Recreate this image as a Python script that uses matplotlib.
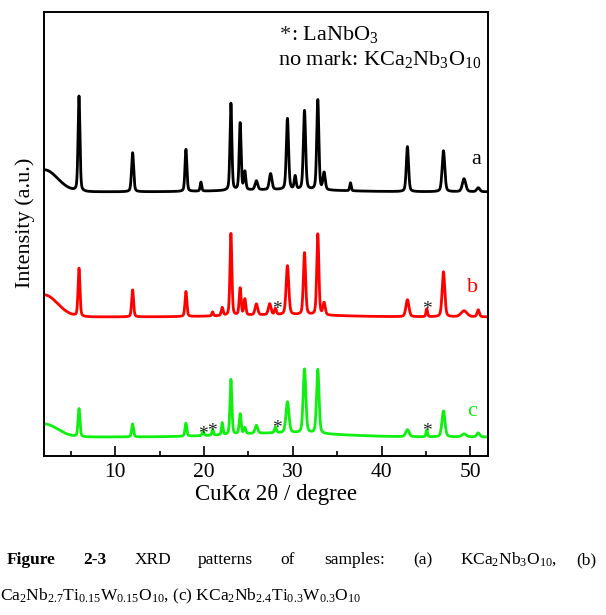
import numpy as np
import matplotlib
matplotlib.use("Agg")
import matplotlib.pyplot as plt

plt.rcParams['font.family'] = ['Liberation Serif', 'DejaVu Serif']
plt.rcParams['mathtext.fontset'] = 'custom'
plt.rcParams['mathtext.rm'] = 'Liberation Serif'
plt.rcParams['mathtext.it'] = 'Liberation Serif:italic'
plt.rcParams['mathtext.default'] = 'regular'

# ---------------- data ----------------
# peak positions (2theta, deg), heights (a.u.), FWHM (deg)
pos_a = [5.91, 11.95, 17.96, 19.65, 23.03, 24.07, 24.6, 25.9, 27.5, 29.4, 30.27,
         31.32, 32.82, 33.53, 36.5, 42.92, 46.98, 49.3, 50.9]
hgt_a = [95, 39, 42, 9, 87, 67, 18, 9, 16, 71, 13, 79, 90, 17, 8, 45, 41, 13, 4]
fw_a = [0.25, 0.28, 0.25, 0.2, 0.25, 0.25, 0.25, 0.35, 0.35, 0.3, 0.25,
        0.3, 0.28, 0.3, 0.2, 0.3, 0.35, 0.45, 0.4]

pos_b = [5.91, 11.95, 17.96, 20.96, 22.05, 23.03, 24.07, 24.6, 25.9, 27.4, 28.05,
         29.4, 31.32, 32.82, 33.53, 42.92, 45.1, 46.98, 49.3, 50.9]
hgt_b = [48, 27, 25, 4, 8, 82, 27, 16, 11, 11, 6, 49, 62, 81, 12, 17, 8, 45, 6, 7]
fw_b = [0.25, 0.25, 0.25, 0.2, 0.25, 0.25, 0.25, 0.25, 0.35, 0.35, 0.25,
        0.35, 0.3, 0.28, 0.3, 0.4, 0.2, 0.35, 0.8, 0.3]

pos_c = [5.91, 11.95, 17.96, 19.9, 20.97, 22.05, 23.03, 24.07, 24.6, 25.9, 28.05,
         29.4, 31.32, 32.82, 42.92, 45.1, 46.98, 49.3, 50.9]
hgt_c = [28, 13, 13, 4, 6, 12, 55, 20, 6, 8, 6, 31, 64, 64, 7, 7, 26, 3, 4]
fw_c = [0.25, 0.25, 0.25, 0.25, 0.2, 0.2, 0.25, 0.25, 0.25, 0.35, 0.25,
        0.4, 0.35, 0.33, 0.45, 0.2, 0.4, 0.6, 0.4]

# background: flat level + low-angle hump height + broad hump height
base_a, hump_a, broad_a = 264, 22, 2
base_b, hump_b, broad_b = 139, 22, 2
base_c, hump_c, broad_c = 19, 13, 4

series_labels = ['a', 'b', 'c']
series_colors = ['black', '#ff0000', '#10f010']

star_b_x = [28.17, 45.1]
star_b_y = [142, 142]
star_c_x = [19.9, 20.89, 28.17, 45.1]
star_c_y = [17, 20, 23, 20]

xticks_major = [10, 20, 30, 40, 50]
xticks_minor = [5, 15, 25, 35, 45]

# ---------------- build profiles ----------------
tt = np.linspace(2, 52, 6001)


def profile(base, hump, broad, pos, hgt, fw):
    y = np.full_like(tt, float(base))
    y += hump * np.exp(-((tt - 2.0) / 1.5) ** 2 / 2)
    y += broad * np.exp(-((tt - 29.0) / 6.0) ** 2 / 2)
    for p, h, w in zip(pos, hgt, fw):
        g = np.exp(-4 * np.log(2) * ((tt - p) / w) ** 2)
        l = 1.0 / (1 + 4 * ((tt - p) / w) ** 2)
        y += h * (0.65 * g + 0.35 * l)
    return y


ya = profile(base_a, hump_a, broad_a, pos_a, hgt_a, fw_a)
yb = profile(base_b, hump_b, broad_b, pos_b, hgt_b, fw_b)
yc = profile(base_c, hump_c, broad_c, pos_c, hgt_c, fw_c)

# ---------------- figure ----------------
W, H = 606, 615
fig = plt.figure(figsize=(W / 100, H / 100), dpi=100)
ax = fig.add_axes([44.3 / W, 1 - 456 / H, 443.7 / W, 444.3 / H])

for y, c in zip([ya, yb, yc], series_colors):
    ax.plot(tt, y, color=c, lw=2.0, solid_joinstyle='round')

ax.set_xlim(2, 52)
ax.set_ylim(0, 444)
ax.set_yticks([])
ax.set_xticks(xticks_major)
ax.set_xticks(xticks_minor, minor=True)
ax.tick_params(axis='x', which='major', direction='in', length=7.5, width=1.2,
               labelsize=15.5, pad=5, top=False)
ax.tick_params(axis='x', which='minor', direction='in', length=3.6, width=1.2,
               top=False)
for s in ax.spines.values():
    s.set_linewidth(1.4)

# series labels
for lab, c, (x, y) in zip(series_labels, series_colors,
                          [(50.62, 296), (50.24, 168), (50.24, 44)]):
    ax.text(x, y, lab, color=c, fontsize=16, ha='center', va='center')

# stars
for x, y in zip(star_b_x + star_c_x, star_b_y + star_c_y):
    ax.text(x, y, '*', color='#222222', fontsize=14, ha='center', va='baseline')

# legend text
ax.text(29.16, 416, '*', fontsize=16, ha='center', va='baseline', color='#222222')
ax.text(29.85, 416, ': LaNbO$_3$', fontsize=16, ha='left', va='baseline')
ax.text(28.32, 391, 'no mark: KCa$_2$Nb$_3$O$_{10}$', fontsize=16, ha='left',
        va='baseline')

# axis labels
fig.text(25 / W, 1 - 223 / H, 'Intensity (a.u.)', rotation=90, fontsize=16,
         ha='center', va='center')
fig.text(276 / W, 1 - 500 / H, 'CuKα 2θ / degree', fontsize=16.5, ha='center',
         va='baseline')

# caption
cap1 = [(7, 'Figure', 'bold'), (83, '2-3', 'bold'), (135, 'XRD', 'normal'),
        (198, 'patterns', 'normal'), (280, 'of', 'normal'),
        (324, 'samples:', 'normal'), (413, '(a)', 'normal'),
        (460, 'KCa$_2$Nb$_3$O$_{10}$,', 'normal'), (576, '(b)', 'normal')]
for x, t, wgt in cap1:
    fig.text(x / W, 1 - 564 / H, t, fontsize=12.5, fontweight=wgt, ha='left',
             va='baseline')
fig.text(0 / W, 1 - 600 / H,
         'Ca$_2$Nb$_{2.7}$Ti$_{0.15}$W$_{0.15}$O$_{10}$, (c) '
         'KCa$_2$Nb$_{2.4}$Ti$_{0.3}$W$_{0.3}$O$_{10}$',
         fontsize=12.5, ha='left', va='baseline')

fig.savefig('out.png', dpi=100)
